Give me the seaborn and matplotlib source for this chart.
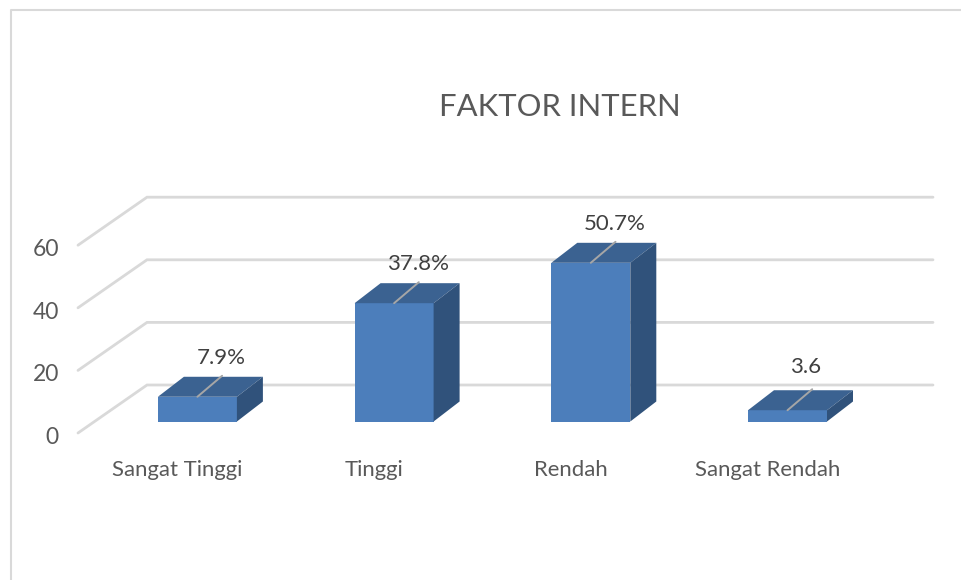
import matplotlib
matplotlib.use('Agg')
import matplotlib.pyplot as plt
import pandas as pd
import seaborn as sns
from matplotlib.patches import Polygon

# Values
categories = ['Sangat Tinggi', 'Tinggi', 'Rendah', 'Sangat Rendah']
values = [7.9, 37.8, 50.7, 3.6]
value_labels = ['7.9%', '37.8%', '50.7%', '3.6']
y_ticks = [0, 20, 40, 60]
title = 'FAKTOR INTERN'

W, H = 962, 580
X0, X_STEP = 197.4, 196.7   # pixel of first category, pixels per category
Y0, Y_UNIT = 421.5, 3.13    # pixel of value 0, pixels per value unit

FRONT = '#4c7ebb'
TOP = '#3b6291'
SIDE = '#30527b'
GRID = '#d9d9d9'
TEXT = '#595959'


def dx(px):
    return px / X_STEP


def dy(px):
    return px / Y_UNIT


def to_x(px):
    return (px - X0) / X_STEP


def to_y(px):
    return (Y0 - px) / Y_UNIT


sns.set_theme(style='white')
plt.rcParams['font.family'] = ['Lato', 'DejaVu Sans']

fig = plt.figure(figsize=(W / 100, H / 100), dpi=100)
ax = fig.add_axes([0, 0, 1, 1])

df = pd.DataFrame({'kategori': categories, 'nilai': values})
sns.barplot(data=df, x='kategori', y='nilai', color=FRONT, saturation=1,
            width=79 / X_STEP, ax=ax, zorder=3, linewidth=0)

ax.set_xlim(to_x(0), to_x(W))
ax.set_ylim(to_y(H), to_y(0))
ax.axis('off')

# outer chart frame
ax.plot([to_x(11), to_x(11), to_x(W)], [to_y(H), to_y(10), to_y(10)],
        color=GRID, lw=1.5, zorder=1, clip_on=False)

# gridlines on the back wall and floor/side wall diagonals
for v in y_ticks:
    front_y = to_y(433) + v
    back_y = to_y(385) + v
    ax.plot([to_x(78), to_x(147), to_x(933)], [front_y, back_y, back_y],
            color=GRID, lw=2, zorder=1, solid_joinstyle='miter')
    ax.text(to_x(59), to_y(437.5) + v, str(v), ha='right', va='center',
            fontsize=16.5, color=TEXT)

# depth faces, leader lines and labels for each bar
depth_x, depth_y = dx(26), dy(20)
for bar, label in zip(ax.patches, value_labels):
    x, w, h = bar.get_x(), bar.get_width(), bar.get_height()
    ax.add_patch(Polygon([(x, h), (x + w, h), (x + w + depth_x, h + depth_y),
                          (x + depth_x, h + depth_y)], color=TOP, lw=0, zorder=3))
    ax.add_patch(Polygon([(x + w, 0), (x + w + depth_x, depth_y),
                          (x + w + depth_x, h + depth_y), (x + w, h)],
                         color=SIDE, lw=0, zorder=3))
    cx = x + w / 2
    ax.plot([cx, cx + depth_x * 0.95], [h, h + depth_y * 1.05], color='#a6a6a6', lw=1.4, zorder=4)
    # the one label without a percent sign sits closer to its leader line
    is_percent = label.endswith('%')
    ax.text(cx + dx(24 if is_percent else 18), h + dy(39 if is_percent else 43), label,
            ha='center', va='center', fontsize=16, color='#404040', zorder=5)

for i, name in enumerate(categories):
    ax.text(i - dx(20), to_y(469.5), name, ha='center', va='center',
            fontsize=15.9, color=TEXT)

ax.text(to_x(560), to_y(106.5), title, ha='center', va='center', fontsize=22.3, color=TEXT)

fig.savefig('out.png', dpi=100, facecolor='white')
